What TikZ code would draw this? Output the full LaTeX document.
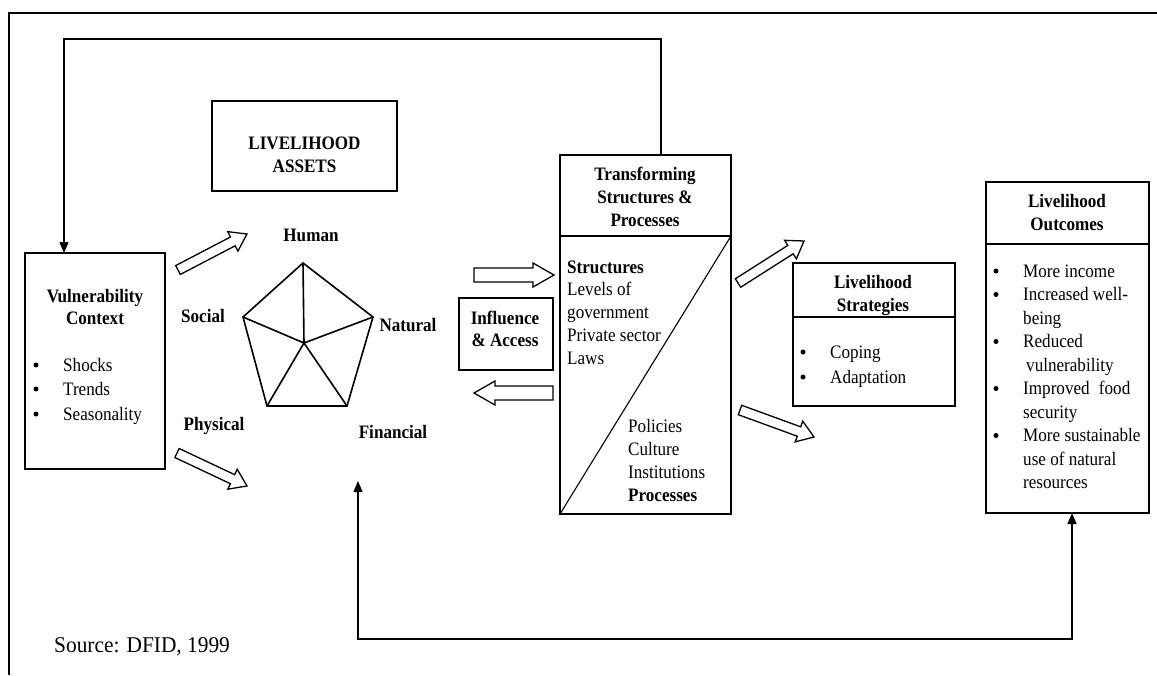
\documentclass[tikz,border=0pt]{standalone}
\usepackage{fontspec}
\setmainfont[FakeStretch=0.9]{Liberation Serif}
\newfontfamily\notefont[FakeStretch=0.95]{Liberation Serif}
\usetikzlibrary{calc,arrows.meta}

% hollow block arrow: tail, tip, half shaft width, half head width, head length
\newcommand{\hollowarrow}[5]{%
  \coordinate (neck) at ($(#2)!#5!(#1)$);
  \draw[blockarrow] ($(#1)!#3!90:(#2)$) -- ($(neck)!#3!90:(#2)$)
    -- ($(neck)!#4!90:(#2)$) -- (#2) -- ($(neck)!#4!-90:(#2)$)
    -- ($(neck)!#3!-90:(#2)$) -- ($(#1)!#3!-90:(#2)$) -- cycle;}

\tikzset{
  box/.style={draw, line width=1.5pt, inner sep=0pt, outer sep=0pt},
  frame/.style={line width=2.2pt},
  fb/.style={line width=1.3pt},
  tipfb/.style={-{Triangle[length=11pt,width=9pt]}},
  blockarrow/.style={line width=1.3pt, line join=miter},
  txt/.style={font=\fontsize{19}{23.5}\selectfont, inner sep=0pt, anchor=base},
  ltxt/.style={txt, anchor=base west},
  btxt/.style={txt, font=\fontsize{19}{23.5}\selectfont\bfseries},
  bltxt/.style={ltxt, font=\fontsize{19}{23.5}\selectfont\bfseries},
  dot/.style={circle, fill, inner sep=0pt, minimum size=5pt},
}

\begin{document}
\begin{tikzpicture}[x=1pt, y=-1pt]
\useasboundingbox (0,0) rectangle (1157,675);

% outer frame (left and top sides)
\draw[frame] (9,675) -- (9,13) -- (1157,13);

% boxes
\node[box, minimum width=140pt, minimum height=216pt] (vul) at (95,361) {};
\node[box, minimum width=185pt, minimum height=90pt] (assets) at (304.5,146) {};
\node[box, minimum width=94pt, minimum height=72pt] (infl) at (506,334) {};
\node[box, minimum width=171pt, minimum height=359pt] (tsp) at (645.5,334.5) {};
\node[box, minimum width=162pt, minimum height=143pt] (strat) at (874,334.5) {};
\node[box, minimum width=163pt, minimum height=331pt] (out) at (1067.5,347.5) {};

% header dividers and the structures/processes split
\coordinate (tdiv) at (0,236);
\coordinate (sdiv) at (0,317);
\coordinate (odiv) at (0,244);
\draw[line width=1.5pt] (tsp.west |- tdiv) -- (tsp.east |- tdiv);
\draw[line width=1.5pt] (strat.west |- sdiv) -- (strat.east |- sdiv);
\draw[line width=1.5pt] (out.west |- odiv) -- (out.east |- odiv);
\draw[line width=1.1pt] (tsp.south west) -- (tsp.east |- tdiv);

% asset pentagon
\coordinate (ph) at (303,263);
\coordinate (pn) at (373,317);
\coordinate (pf) at (347,406);
\coordinate (pp) at (267,406);
\coordinate (ps) at (243,317);
\coordinate (pc) at (304,343);
\draw[line width=1.6pt, line join=miter] (ph) -- (pn) -- (pf) -- (pp) -- (ps) -- cycle;
\draw[line width=1.6pt] (pc) -- (ph) (pc) -- (pn) (pc) -- (pf) (pc) -- (pp) (pc) -- (ps);

% feedback loops
\coordinate (fbcorner) at (64,39);
\draw[fb, tipfb] ([xshift=15.5pt]tsp.north) |- (fbcorner) -- (vul.north -| fbcorner);
\coordinate (fintip) at (358,481);
\coordinate (fbbot) at (358,639);
\draw[fb, {Triangle[length=11pt,width=9pt]}-{Triangle[length=11pt,width=9pt]}]
  (fintip) -- (fbbot) -| ([xshift=4.5pt]out.south);

% hollow block arrows
\coordinate (a1t) at (178,270);  \coordinate (a1h) at (247,234);
\coordinate (a2t) at (177,453);  \coordinate (a2h) at (247,486);
\coordinate (a3t) at (474,275);  \coordinate (a3h) at (554,275);
\coordinate (a4t) at (553,393);  \coordinate (a4h) at (474,393);
\coordinate (a5t) at (738,283);  \coordinate (a5h) at (804,241);
\coordinate (a6t) at (740,410);  \coordinate (a6h) at (814,437);
\hollowarrow{a1t}{a1h}{5pt}{11pt}{16pt}
\hollowarrow{a2t}{a2h}{5pt}{11pt}{16pt}
\hollowarrow{a3t}{a3h}{7pt}{12pt}{21pt}
\hollowarrow{a4t}{a4h}{7pt}{12pt}{21pt}
\hollowarrow{a5t}{a5h}{5pt}{11pt}{16pt}
\hollowarrow{a6t}{a6h}{5pt}{11pt}{16pt}

% vulnerability context
\node[btxt] (v1) at (95,302) {Vulnerability};
\node[btxt] (v2) at (95,324) {Context};
\foreach \y/\t [count=\i] in {371/Shocks, 395/Trends, 420/Seasonality}{
  \node[dot] (vb\i) at (36,\y-6) {};
  \node[ltxt] (vt\i) at (63,\y) {\t};
}

% livelihood assets
\node[btxt] (la1) at (304.5,149) {LIVELIHOOD};
\node[btxt] (la2) at (304.5,172) {ASSETS};
\node[btxt] (hum) at (311,241) {Human};
\node[btxt] (soc) at (203,322) {Social};
\node[btxt] (nat) at (408,331) {Natural};
\node[btxt] (phy) at (214,430) {Physical};
\node[btxt] (fin) at (393,438) {Financial};

% influence and access
\node[btxt] (ia1) at (505,324) {Influence};
\node[btxt] (ia2) at (505,346) {\& Access};

% transforming structures and processes
\node[btxt] (ts1) at (645,180) {Transforming};
\node[btxt] (ts2) at (645,203) {Structures \&};
\node[btxt] (ts3) at (645,226) {Processes};
\node[bltxt] (st0) at (567,273) {Structures};
\node[ltxt] (st1) at (567,295) {Levels of};
\node[ltxt] (st2) at (567,318) {government};
\node[ltxt] (st3) at (567,341) {Private sector};
\node[ltxt] (st4) at (567,364) {Laws};
\node[ltxt] (pr1) at (628,432) {Policies};
\node[ltxt] (pr2) at (628,455) {Culture};
\node[ltxt] (pr3) at (628,478) {Institutions};
\node[bltxt] (pr0) at (628,501) {Processes};

% livelihood strategies
\node[btxt] (ls1) at (873,288) {Livelihood};
\node[btxt] (ls2) at (873,311) {Strategies};
\node[dot] (lsb1) at (803,352) {};
\node[ltxt] (lst1) at (830,358) {Coping};
\node[dot] (lsb2) at (803,377) {};
\node[ltxt] (lst2) at (830,383) {Adaptation};

% livelihood outcomes
\node[btxt] (lo1) at (1067,207) {Livelihood};
\node[btxt] (lo2) at (1067,230) {Outcomes};
\foreach \y [count=\i] in {277, 300.5, 347.5, 394.5, 441.5}{
  \node[dot] (ob\i) at (996,\y-6) {};
}
\node[ltxt] (o1) at (1023,277) {More income};
\node[ltxt] (o2) at (1023,300.5) {Increased well-};
\node[ltxt] (o3) at (1023,324) {being};
\node[ltxt] (o4) at (1023,347.5) {Reduced};
\node[ltxt] (o5) at (1026,371) {vulnerability};
\node[ltxt] (o6) at (1023,394.5) {Improved\hspace{5pt} food};
\node[ltxt] (o7) at (1023,418) {security};
\node[ltxt] (o8) at (1023,441.5) {More sustainable};
\node[ltxt] (o9) at (1023,465) {use of natural};
\node[ltxt] (o10) at (1023,488.5) {resources};

% source note
\node[ltxt, font=\notefont\fontsize{22.5}{26}\selectfont] (src) at (54,652) {Source: DFID, 1999};
\end{tikzpicture}
\end{document}
